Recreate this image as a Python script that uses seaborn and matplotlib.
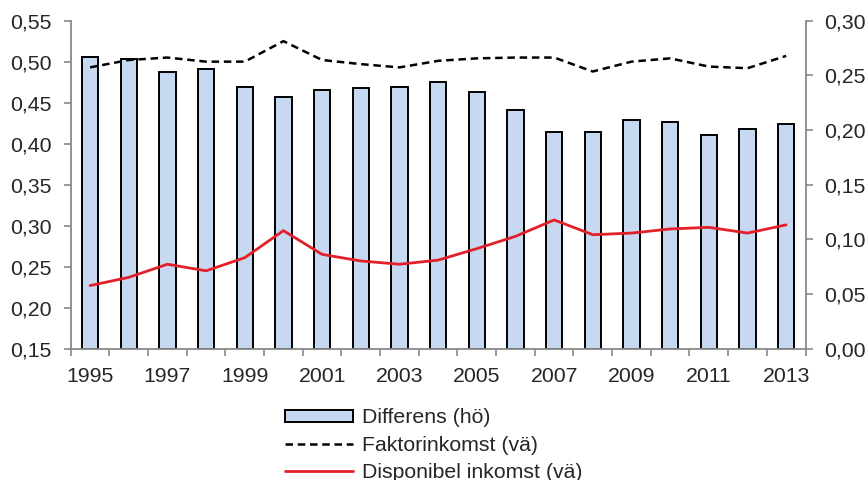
import matplotlib
matplotlib.use("Agg")
import matplotlib.pyplot as plt
from matplotlib.ticker import FuncFormatter, FixedLocator
import numpy as np
import pandas as pd
import seaborn as sns

# Gini coefficients (left axis) and their difference (right axis)
years = list(range(1995, 2014))
faktorinkomst = [0.493, 0.502, 0.505, 0.500, 0.500, 0.525, 0.502, 0.497, 0.493, 0.501,
                 0.504, 0.505, 0.505, 0.488, 0.500, 0.504, 0.494, 0.492, 0.507]
disponibel = [0.227, 0.237, 0.253, 0.245, 0.261, 0.294, 0.265, 0.257, 0.253, 0.258,
              0.272, 0.287, 0.307, 0.289, 0.291, 0.296, 0.298, 0.291, 0.301]
differens = [0.2665, 0.2647, 0.2528, 0.2558, 0.2396, 0.2305, 0.2369, 0.2387, 0.2396, 0.2439,
             0.2348, 0.2180, 0.1979, 0.1985, 0.2089, 0.2076, 0.1957, 0.2012, 0.2055]
left_ticks = [0.15, 0.20, 0.25, 0.30, 0.35, 0.40, 0.45, 0.50, 0.55]
right_ticks = [0.00, 0.05, 0.10, 0.15, 0.20, 0.25, 0.30]
labels = ["Differens (hö)", "Faktorinkomst (vä)", "Disponibel inkomst (vä)"]

df = pd.DataFrame({"year": [str(y) for y in years], "pos": np.arange(len(years)),
                   "faktor": faktorinkomst, "disp": disponibel, "diff": differens})

FS = 15.3
sns.set_style("white")
plt.rcParams["font.family"] = ["Liberation Sans", "DejaVu Sans"]
plt.rcParams["font.size"] = FS

fig = plt.figure(figsize=(8.68, 4.8), dpi=100)
fig.subplots_adjust(left=0.0815, right=0.928, top=0.957, bottom=0.2735)
ax = fig.add_subplot(111)
ax_r = ax.twinx()
ax.set_zorder(ax_r.get_zorder() + 1)
ax.patch.set_visible(False)

# Bars on the right-hand axis
sns.barplot(data=df, x="year", y="diff", ax=ax_r, color="#C6D9F1", saturation=1,
            edgecolor="black", linewidth=1.4, width=0.42, errorbar=None, label=labels[0])

# Lines on the left-hand axis
sns.lineplot(data=df, x="pos", y="faktor", ax=ax, color="black", lw=1.8,
             linestyle=(0, (3.0, 1.9)), label=labels[1])
sns.lineplot(data=df, x="pos", y="disp", ax=ax, color="#E3202A", lw=2.0, label=labels[2])

n = len(years)
for a in (ax, ax_r):
    a.set_xlim(-0.5, n - 0.5)
    a.set_xlabel("")
    a.set_ylabel("")
ax.set_ylim(0.15, 0.55)
ax_r.set_ylim(0.0, 0.30)

comma = FuncFormatter(lambda v, p: f"{v:.2f}".replace(".", ","))
ax.yaxis.set_major_locator(FixedLocator(left_ticks))
ax.yaxis.set_major_formatter(comma)
ax_r.yaxis.set_major_locator(FixedLocator(right_ticks))
ax_r.yaxis.set_major_formatter(comma)

# Year labels on every other category, tick marks on category boundaries
ax.set_xticks(np.arange(0, n, 2))
ax.set_xticklabels([str(y) for y in years[::2]])
ax.set_xticks(np.arange(-0.5, n, 1), minor=True)

gray = "#898989"
for a in (ax, ax_r):
    for s in a.spines.values():
        s.set_visible(False)
ax.spines["left"].set_visible(True)
ax.spines["bottom"].set_visible(True)
ax_r.spines["right"].set_visible(True)
for a, side in ((ax, "left"), (ax, "bottom"), (ax_r, "right")):
    a.spines[side].set_color(gray)
    a.spines[side].set_linewidth(1.3)

ax.tick_params(axis="y", which="major", direction="out", length=5, width=1.2,
               color=gray, labelsize=FS, pad=8.5, left=True)
ax_r.tick_params(axis="y", which="major", direction="out", length=5, width=1.2,
                 color=gray, labelsize=FS, pad=8.5, right=True)
ax.tick_params(axis="x", which="major", length=0, labelsize=FS, pad=13.5)
ax.tick_params(axis="x", which="minor", direction="out", length=5, width=1.2,
               color=gray, bottom=True)
ax_r.tick_params(axis="x", which="both", bottom=False, labelbottom=False)

# Legend below the plot
h1, l1 = ax_r.get_legend_handles_labels()
h2, l2 = ax.get_legend_handles_labels()
for a in (ax, ax_r):
    if a.get_legend() is not None:
        a.get_legend().remove()
fig.legend(h1 + h2, l1 + l2, loc="upper left", bbox_to_anchor=(0.328, 0.149),
           frameon=False, handlelength=3.2, handleheight=0.5, handletextpad=0.45,
           labelspacing=0.38, borderpad=0, borderaxespad=0, fontsize=FS)

fig.savefig("out.png", dpi=100)
